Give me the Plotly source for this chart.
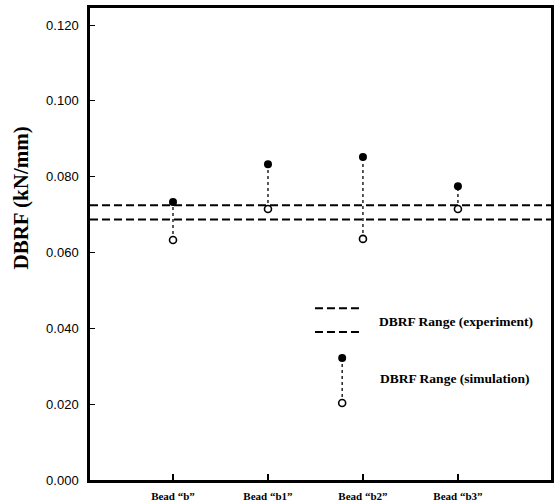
import plotly.graph_objects as go

categories = ['Bead “b”', 'Bead “b1”', 'Bead “b2”', 'Bead “b3”']
positions = [1, 2, 3, 4]
sim_max = [0.0733, 0.0833, 0.0852, 0.0775]
sim_min = [0.0633, 0.0715, 0.0636, 0.0715]
exp_upper = 0.0725
exp_lower = 0.0687
y_ticks = [0.000, 0.020, 0.040, 0.060, 0.080, 0.100, 0.120]
y_ticktext = ["0.000", "0.020", "0.040", "0.060", "0.080", "0.100", "0.120"]

x_range = [0.126, 4.98]

fig = go.Figure()

# experiment range dashed lines
for v in (exp_upper, exp_lower):
    fig.add_trace(go.Scatter(x=x_range, y=[v, v], mode="lines",
                             line=dict(color="black", width=2, dash="8px,4px"),
                             showlegend=False, hoverinfo="skip"))

# simulation range dotted connectors
for xp, lo, hi in zip(positions, sim_min, sim_max):
    fig.add_trace(go.Scatter(x=[xp, xp], y=[lo, hi], mode="lines",
                             line=dict(color="black", width=1.3, dash="dot"),
                             showlegend=False, hoverinfo="skip"))

fig.add_trace(go.Scatter(x=positions, y=sim_max, mode="markers",
                         marker=dict(symbol="circle", size=8, color="black"),
                         showlegend=False))
fig.add_trace(go.Scatter(x=positions, y=sim_min, mode="markers",
                         marker=dict(symbol="circle", size=7, color="white",
                                     line=dict(color="black", width=1.6)),
                         showlegend=False))

# legend (drawn in an overlay paper-like axis)
leg_x_dash = [0.488, 0.590]
leg_y_dash = [0.364, 0.3136]
leg_x_mark = 0.547
leg_y_fill = 0.2585
leg_y_open = 0.163
for ly in leg_y_dash:
    fig.add_trace(go.Scatter(x=leg_x_dash, y=[ly, ly], mode="lines", xaxis="x2", yaxis="y2",
                             line=dict(color="black", width=2, dash="8px,4px"),
                             showlegend=False, hoverinfo="skip"))
fig.add_trace(go.Scatter(x=[leg_x_mark, leg_x_mark], y=[leg_y_open, leg_y_fill], mode="lines",
                         xaxis="x2", yaxis="y2",
                         line=dict(color="black", width=1.3, dash="dot"),
                         showlegend=False, hoverinfo="skip"))
fig.add_trace(go.Scatter(x=[leg_x_mark], y=[leg_y_fill], mode="markers", xaxis="x2", yaxis="y2",
                         marker=dict(symbol="circle", size=8, color="black"),
                         showlegend=False, hoverinfo="skip"))
fig.add_trace(go.Scatter(x=[leg_x_mark], y=[leg_y_open], mode="markers", xaxis="x2", yaxis="y2",
                         marker=dict(symbol="circle", size=7, color="white",
                                     line=dict(color="black", width=1.6)),
                         showlegend=False, hoverinfo="skip"))

serif = "Liberation Serif, Times New Roman, serif"
fig.add_annotation(x=0.623, y=0.335, xref="paper", yref="paper", xanchor="left", yanchor="middle",
                   text="<b>DBRF Range (experiment)</b>", showarrow=False,
                   font=dict(family=serif, size=13.5, color="black"))
fig.add_annotation(x=0.625, y=0.216, xref="paper", yref="paper", xanchor="left", yanchor="middle",
                   text="<b>DBRF Range (simulation)</b>", showarrow=False,
                   font=dict(family=serif, size=13.5, color="black"))

# y axis title placed as annotation (it sits above the axis centre in the reference)
fig.add_annotation(x=-0.149, y=0.597, xref="paper", yref="paper", xanchor="center", yanchor="middle",
                   text="<b>DBRF (kN/mm)</b>", textangle=-90, showarrow=False,
                   font=dict(family=serif, size=21, color="black"))

fig.update_layout(
    width=560, height=503,
    margin=dict(l=90, r=9, t=8, b=23),
    paper_bgcolor="white", plot_bgcolor="white",
    showlegend=False,
    xaxis=dict(range=x_range, tickvals=positions,
               ticktext=["<b>" + c + "</b>" for c in categories],
               ticks="inside", ticklen=6, tickwidth=1.5, tickcolor="black",
               showgrid=False, zeroline=False, showline=True, linecolor="black",
               linewidth=2.5, mirror=True, ticklabelstandoff=4, automargin=False,
               tickfont=dict(family=serif, size=11, color="black")),
    yaxis=dict(range=[0, 0.1245], tickvals=y_ticks, ticktext=y_ticktext,
               ticks="inside", ticklen=5, tickwidth=1.2, tickcolor="black",
               showgrid=False, zeroline=False, showline=True, linecolor="black",
               linewidth=2.5, mirror=True, ticklabelstandoff=6, automargin=False,
               tickfont=dict(family="Liberation Sans, Arial, sans-serif", size=13, color="black")),
    xaxis2=dict(range=[0, 1], overlaying="x", visible=False, fixedrange=True),
    yaxis2=dict(range=[0, 1], overlaying="y", visible=False, fixedrange=True),
)

fig.write_html("out.html")
